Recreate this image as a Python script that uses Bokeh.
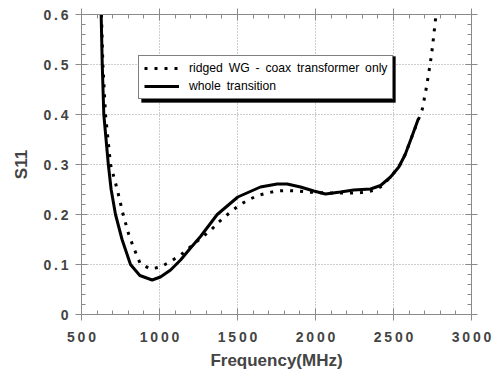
from bokeh.plotting import figure
from bokeh.models import (Legend, LegendItem, LinearAxis, CustomJSTickFormatter,
                          FixedTicker, ColumnDataSource, BoxAnnotation)
from bokeh.embed import file_html
from bokeh.resources import INLINE

# ---- data ----
freq_coax = [628, 637, 654, 686, 729, 767, 803, 835, 876, 942, 1006, 1071, 1135,
             1258, 1327, 1380, 1440, 1508, 1568, 1630, 1690, 1754, 1818, 1882,
             1946, 2074, 2192, 2267, 2327, 2385, 2430, 2481, 2534, 2575, 2617,
             2660, 2684, 2707, 2726, 2744, 2758, 2771, 2775]
s11_coax = [0.600, 0.500, 0.400, 0.300, 0.250, 0.200, 0.160, 0.133, 0.102, 0.091,
            0.095, 0.106, 0.119, 0.151, 0.168, 0.185, 0.201, 0.218, 0.229, 0.238,
            0.243, 0.247, 0.248, 0.247, 0.245, 0.243, 0.243, 0.243, 0.245, 0.249,
            0.258, 0.275, 0.295, 0.320, 0.355, 0.390, 0.410, 0.447, 0.483, 0.520,
            0.558, 0.595, 0.600]

freq_whole = [626, 633, 643, 672, 690, 718, 760, 814, 874, 953, 1006, 1071, 1135,
              1199, 1263, 1370, 1502, 1647, 1754, 1818, 1904, 1989, 2064, 2160,
              2245, 2353, 2417, 2481, 2534, 2575, 2617, 2660]
s11_whole = [0.600, 0.500, 0.400, 0.300, 0.250, 0.200, 0.150, 0.100, 0.078, 0.069,
             0.075, 0.089, 0.109, 0.133, 0.156, 0.200, 0.235, 0.255, 0.261, 0.261,
             0.255, 0.247, 0.241, 0.245, 0.249, 0.251, 0.258, 0.275, 0.295, 0.320,
             0.355, 0.392]

x_ticks = [500, 1000, 1500, 2000, 2500, 3000]
x_minor = [f for f in range(500, 3001, 100) if f % 500 != 0]
y_ticks = [0.0, 0.1, 0.2, 0.3, 0.4, 0.5, 0.6]
y_minor = [round(i * 0.02, 2) for i in range(31) if i % 5 != 0]

label_coax = "ridged WG - coax transformer only"
label_whole = "whole transition"
x_label = "Frequency(MHz)"
y_label = "S11"

FONT = "Liberation Sans"
AX = "#8a8a8a"

p = figure(width=497, height=372, x_range=(500, 3000), y_range=(0, 0.6),
           output_backend="svg", toolbar_location=None,
           min_border_left=81, min_border_right=26, min_border_top=14,
           min_border_bottom=58, x_axis_label=x_label, y_axis_label=y_label)
p.outline_line_color = None
p.background_fill_color = "white"
p.border_fill_color = "white"

src_c = ColumnDataSource(dict(x=freq_coax, y=s11_coax))
src_w = ColumnDataSource(dict(x=freq_whole, y=s11_whole))
r_c = p.line("x", "y", source=src_c, line_color="black", line_width=3,
             line_dash="3 7", line_cap="butt")
r_w = p.line("x", "y", source=src_w, line_color="black", line_width=3)

xfmt = CustomJSTickFormatter(code='return tick.toFixed(0).split("").join("\\u2009");')
yfmt = CustomJSTickFormatter(code='var s = (Math.abs(tick) < 1e-9) ? "0" : tick.toFixed(1); return s.split("").join("\\u2009");')
blank = CustomJSTickFormatter(code='return "";')


def style_axis(ax):
    ax.axis_line_color = AX
    ax.major_tick_line_color = AX
    ax.minor_tick_line_color = AX
    ax.major_tick_in = 6
    ax.major_tick_out = 6
    ax.minor_tick_in = 4
    ax.minor_tick_out = 0


xa = p.xaxis[0]
xa.ticker = FixedTicker(ticks=x_ticks, minor_ticks=x_minor)
xa.formatter = xfmt
style_axis(xa)
xa.major_label_text_font = FONT
xa.major_label_text_font_style = "bold"
xa.major_label_text_font_size = "14px"
xa.major_label_standoff = 8
xa.axis_label_text_font = FONT
xa.axis_label_text_font_style = "bold"
xa.axis_label_text_font_size = "17px"
xa.axis_label_standoff = 3

ya = p.yaxis[0]
ya.ticker = FixedTicker(ticks=y_ticks, minor_ticks=y_minor)
ya.formatter = yfmt
style_axis(ya)
ya.major_label_text_font = FONT
ya.major_label_text_font_style = "bold"
ya.major_label_text_font_size = "14px"
ya.major_label_standoff = 7
ya.major_label_orientation = "horizontal"
ya.axis_label_text_font = FONT
ya.axis_label_text_font_style = "bold"
ya.axis_label_text_font_size = "17px"
ya.axis_label_standoff = 9

top = LinearAxis(ticker=FixedTicker(ticks=x_ticks, minor_ticks=x_minor), formatter=blank)
style_axis(top)
right = LinearAxis(ticker=FixedTicker(ticks=y_ticks, minor_ticks=y_minor), formatter=blank)
style_axis(right)
p.add_layout(top, "above")
p.add_layout(right, "right")

for g in (p.xgrid[0], p.ygrid[0]):
    g.grid_line_color = "#9a9a9a"
    g.grid_line_dash = "1 2"
    g.grid_line_width = 1
p.xgrid[0].ticker = FixedTicker(ticks=x_ticks)
p.ygrid[0].ticker = FixedTicker(ticks=y_ticks)

wide = lambda s: s.replace(" ", " \u2009")

# drop shadow of the legend box (screen units, relative to the frame)
shadow = BoxAnnotation(left=60, right=314, bottom=212, top=258,
                       left_units="screen", right_units="screen",
                       bottom_units="screen", top_units="screen",
                       fill_color="black", fill_alpha=1, line_color="black",
                       level="annotation")
p.add_layout(shadow)

legend = Legend(items=[LegendItem(label=wide(label_coax), renderers=[r_c]),
                       LegendItem(label=wide(label_whole), renderers=[r_w])],
                location=(57, 215), orientation="vertical",
                padding=5, spacing=4, margin=0,
                glyph_width=35, glyph_height=14, label_height=14,
                label_standoff=10, label_text_font=FONT,
                label_text_font_size="12.2px", label_text_color="black",
                border_line_color="black", border_line_width=1.5,
                background_fill_color="white", background_fill_alpha=1)
p.add_layout(legend)

open("out.html", "w").write(file_html(p, INLINE))
